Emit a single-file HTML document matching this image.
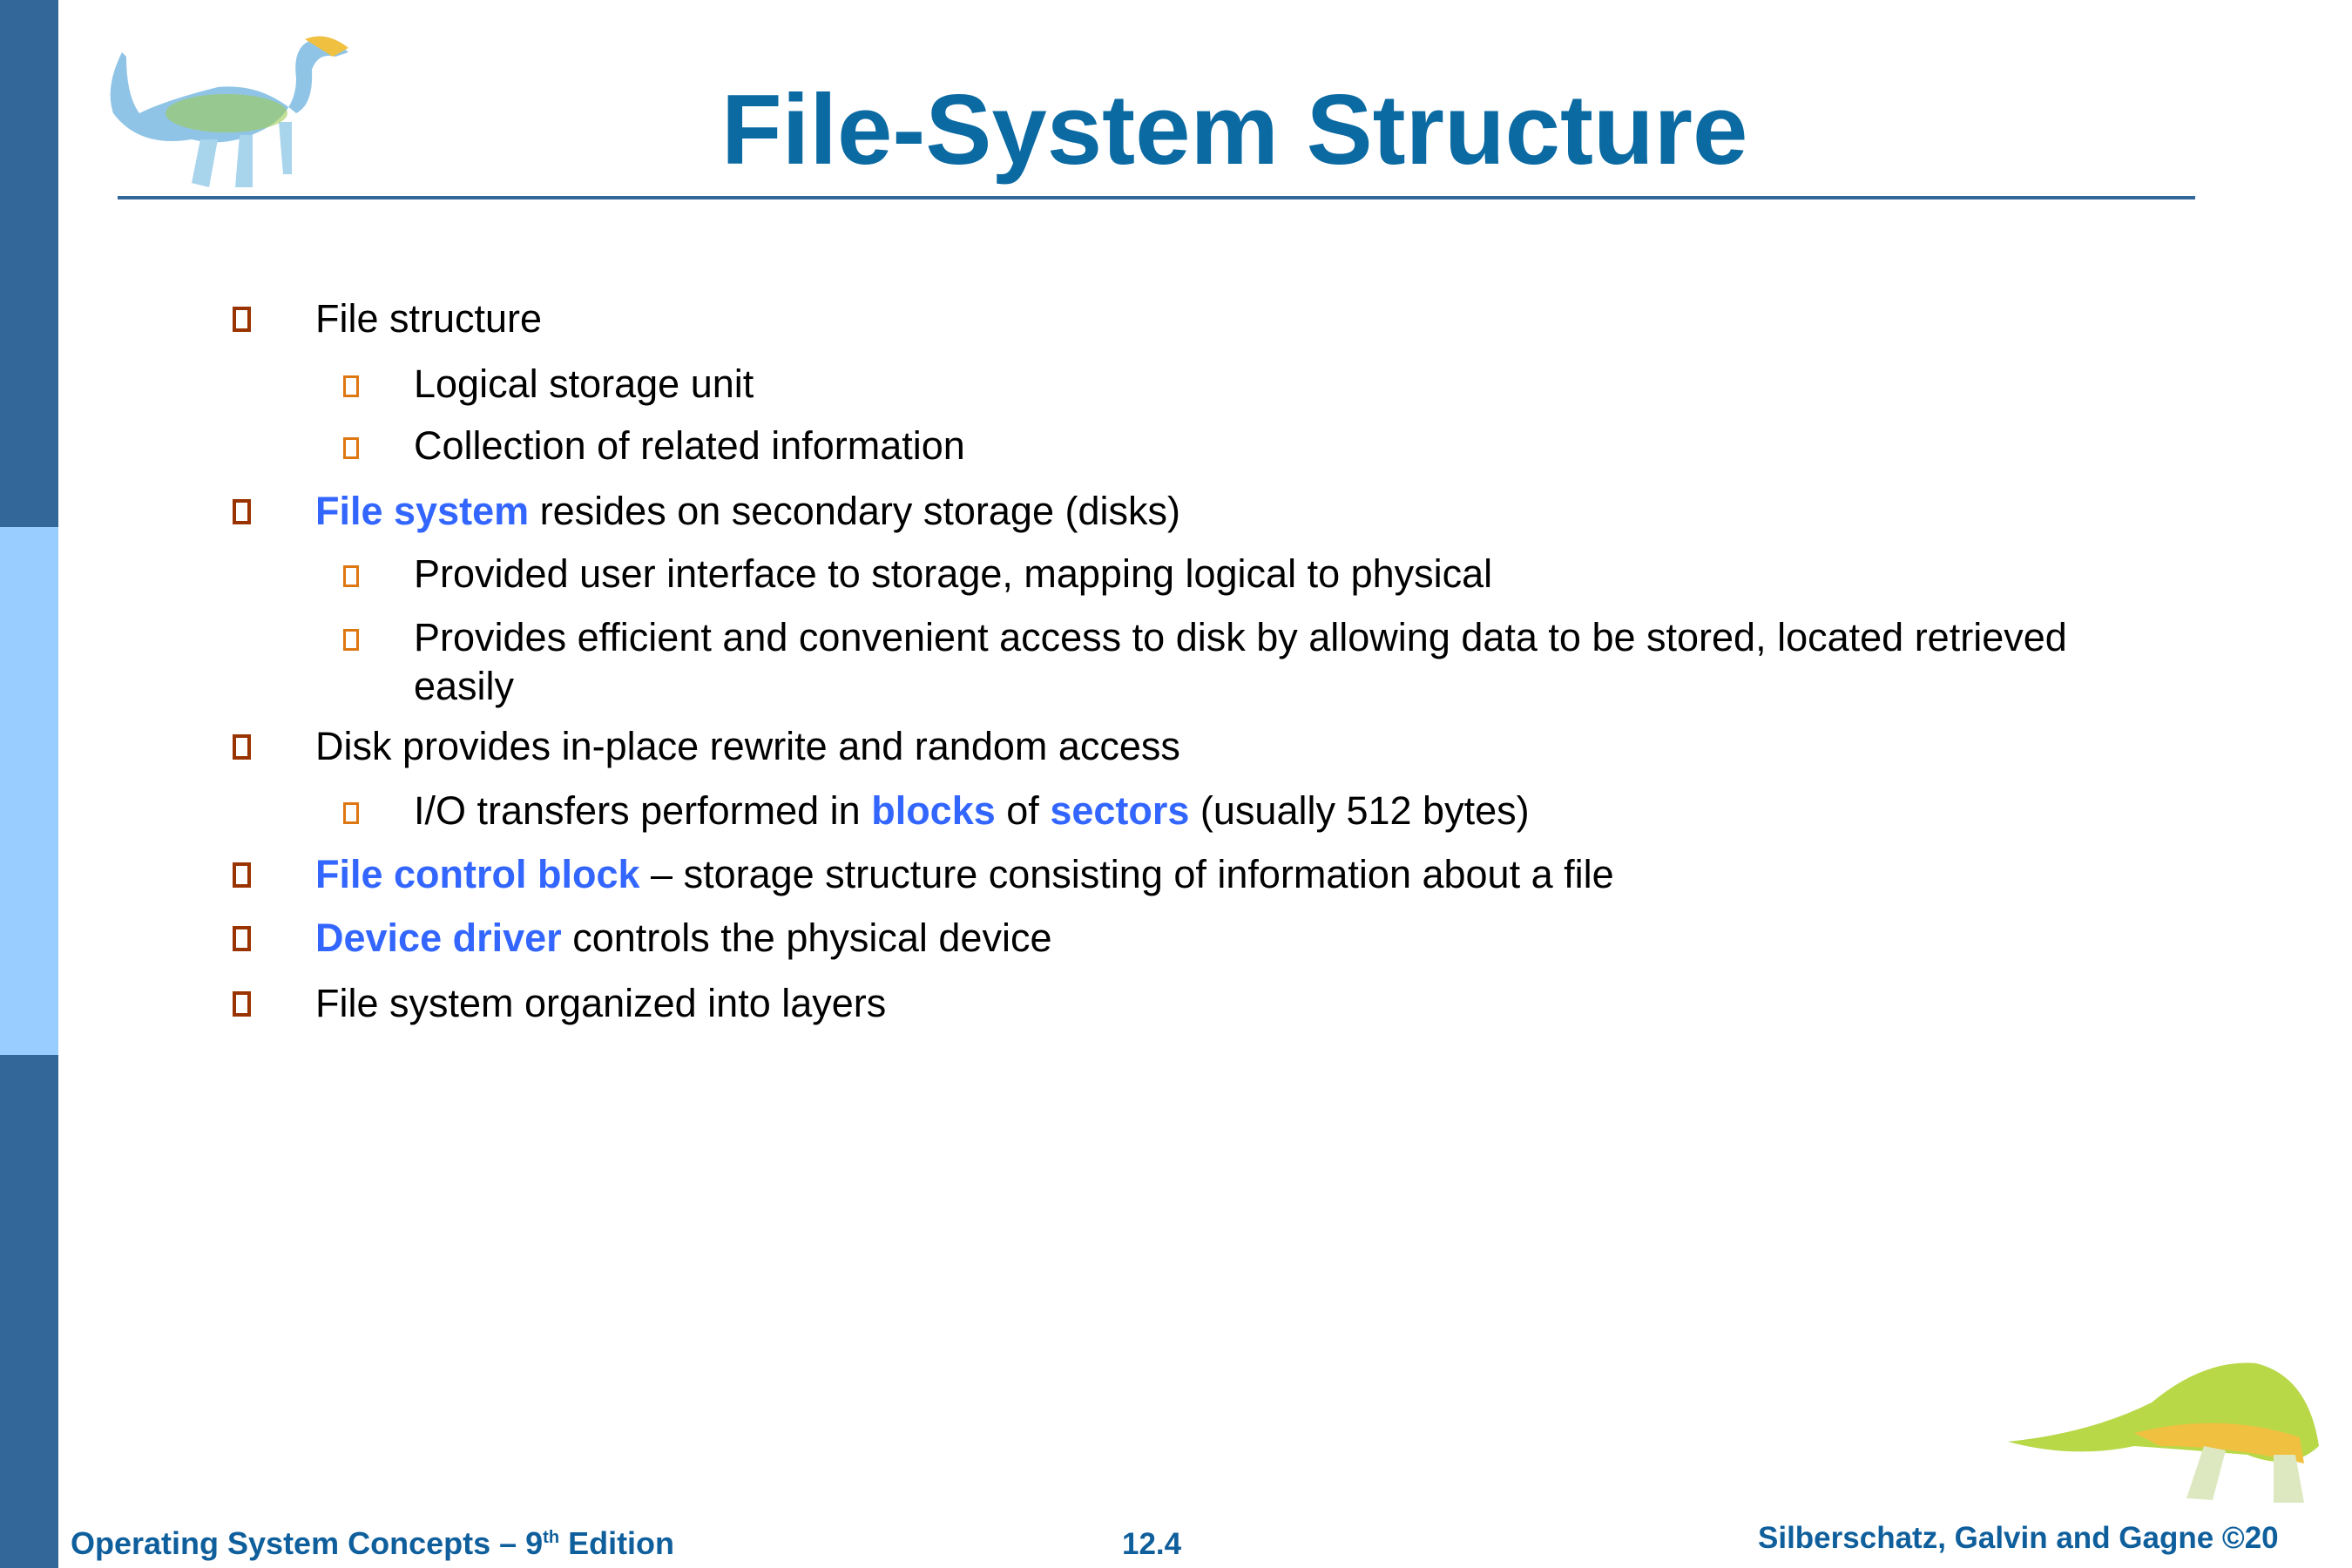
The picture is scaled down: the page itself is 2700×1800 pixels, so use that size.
<!DOCTYPE html>
<html><head><meta charset="utf-8"><style>
body{margin:0;width:2700px;height:1800px;position:relative;background:#fff;overflow:hidden;font-family:"Liberation Sans",Arial,sans-serif}
.a{position:absolute;white-space:nowrap;line-height:1}
.t{font-size:45px;color:#000}
.b{color:#3366ff;font-weight:bold}
.l1{position:absolute;width:13px;height:21px;border:4px solid #993300}
.l2{position:absolute;width:12px;height:19px;border:3px solid #dd7711}
.f{font-size:35px;font-weight:bold;color:#0f5f9c}
</style></head><body>
<div style="position:absolute;left:0;top:0;width:67px;height:605px;background:#336699"></div>
<div style="position:absolute;left:0;top:605px;width:67px;height:606px;background:#99ccff"></div>
<div style="position:absolute;left:0;top:1211px;width:67px;height:589px;background:#336699"></div>
<div style="position:absolute;left:135px;top:225px;width:2385px;height:4px;background:#336699"></div>

<svg style="position:absolute;left:100px;top:20px" width="320" height="200" viewBox="0 0 320 200">
<path d="M40 40 Q20 80 30 110 Q60 150 120 140 Q160 150 200 130 Q240 110 240 70 Q235 30 262 25 Q280 22 300 40 L285 45 Q265 40 258 60 Q260 100 240 110 Q200 75 150 80 Q90 95 60 110 Q45 90 45 45 Z" fill="#8fc4e6"/>
<path d="M130 140 L120 190 L140 195 L150 140 Z M175 135 L170 195 L190 195 L190 135 Z M220 120 L225 180 L235 180 L235 120 Z" fill="#a8d4ec"/>
<ellipse cx="160" cy="110" rx="70" ry="22" fill="#9ccc55" opacity=".6"/>
<path d="M250 25 Q275 15 300 35 L282 45 Z" fill="#f0c040"/>
</svg>

<svg style="position:absolute;left:2300px;top:1550px" width="390" height="190" viewBox="0 0 390 190">
<path d="M5 105 Q100 95 170 60 Q230 10 290 15 Q350 30 362 110 Q330 140 280 120 Q220 115 150 110 Q80 125 5 105 Z" fill="#b8d848"/>
<path d="M150 95 Q250 70 340 100 L345 130 Q260 110 180 110 Z" fill="#f0c040"/>
<path d="M230 110 L210 170 L240 172 L255 115 Z M310 120 L310 175 L345 175 L335 120 Z" fill="#dde8c0"/>
</svg>

<div class="a" style="left:828px;top:93px;font-size:114px;font-weight:bold;color:#0b6aa2">File-System Structure</div>

<div class="l1" style="left:267px;top:352px"></div><div class="a t" style="left:362px;top:343px">File structure</div>
<div class="l2" style="left:394px;top:431px"></div><div class="a t" style="left:475px;top:418px">Logical storage unit</div>
<div class="l2" style="left:394px;top:502px"></div><div class="a t" style="left:475px;top:489px">Collection of related information</div>
<div class="l1" style="left:267px;top:573px"></div><div class="a t" style="left:362px;top:564px"><span class="b">File system</span> resides on secondary storage (disks)</div>
<div class="l2" style="left:394px;top:649px"></div><div class="a t" style="left:475px;top:636px">Provided user interface to storage, mapping logical to physical</div>
<div class="l2" style="left:394px;top:722px"></div><div class="a t" style="left:475px;top:709px">Provides efficient and convenient access to disk by allowing data to be stored, located retrieved</div>
<div class="a t" style="left:475px;top:765px">easily</div>
<div class="l1" style="left:267px;top:843px"></div><div class="a t" style="left:362px;top:834px">Disk provides in-place rewrite and random access</div>
<div class="l2" style="left:394px;top:921px"></div><div class="a t" style="left:475px;top:908px">I/O transfers performed in <span class="b">blocks</span> of <span class="b">sectors</span> (usually 512 bytes)</div>
<div class="l1" style="left:267px;top:990px"></div><div class="a t" style="left:362px;top:981px"><span class="b">File control block</span> – storage structure consisting of information about a file</div>
<div class="l1" style="left:267px;top:1063px"></div><div class="a t" style="left:362px;top:1054px"><span class="b">Device driver</span> controls the physical device</div>
<div class="l1" style="left:267px;top:1138px"></div><div class="a t" style="left:362px;top:1129px">File system organized into layers</div>

<div class="a f" style="left:81px;top:1754px;font-size:36px">Operating System Concepts – 9<sup style="font-size:20px">th</sup> Edition</div>
<div class="a f" style="left:1288px;top:1755px">12.4</div>
<div class="a f" style="left:2018px;top:1748px">Silberschatz, Galvin and Gagne ©20</div>
</body></html>
